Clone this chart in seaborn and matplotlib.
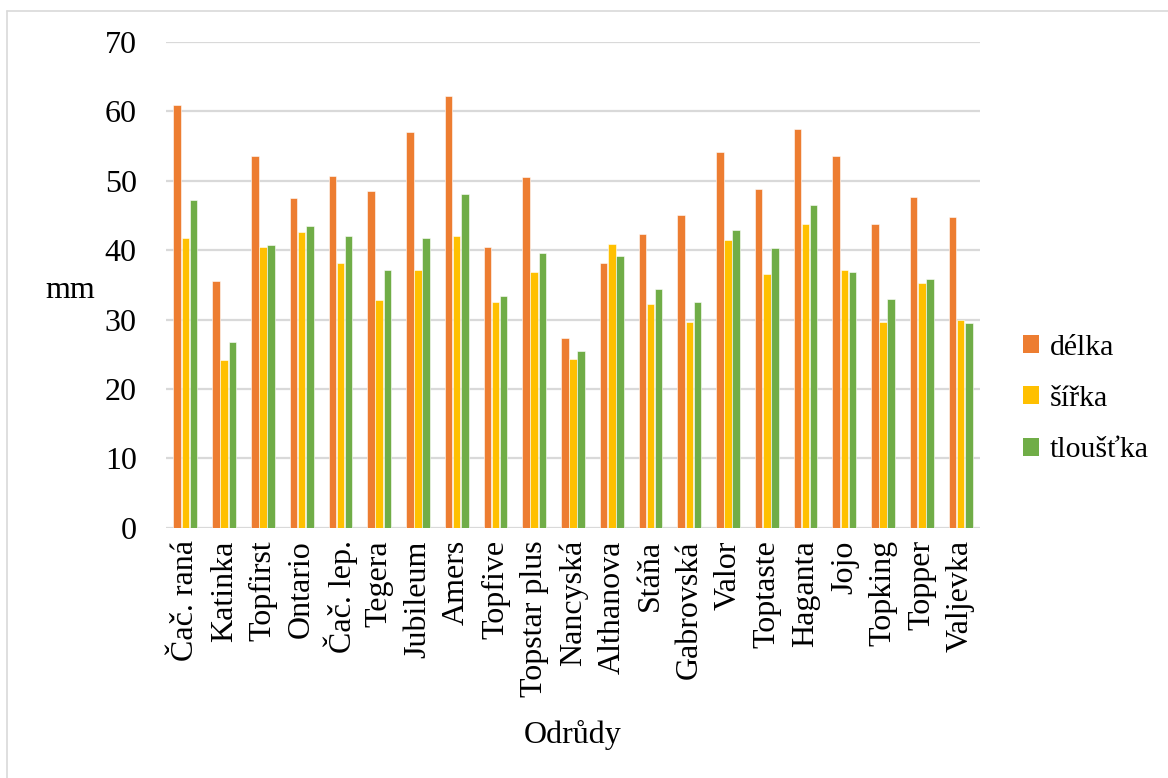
import numpy as np
import pandas as pd
import seaborn as sns
import matplotlib.pyplot as plt
from matplotlib.lines import Line2D

# Varieties and measured dimensions (mm)
odrudy = ["Čač. raná", "Katinka", "Topfirst", "Ontario", "Čač. lep.", "Tegera",
          "Jubileum", "Amers", "Topfive", "Topstar plus", "Nancyská", "Althanova",
          "Stáňa", "Gabrovská", "Valor", "Toptaste", "Haganta", "Jojo", "Topking",
          "Topper", "Valjevka"]
delka = [60.9, 35.5, 53.5, 47.5, 50.7, 48.5, 57.0, 62.2, 40.5, 50.6, 27.3, 38.1,
         42.4, 45.0, 54.2, 48.8, 57.5, 53.5, 43.7, 47.7, 44.8]
sirka = [41.8, 24.1, 40.5, 42.6, 38.1, 32.8, 37.2, 42.1, 32.5, 36.9, 24.3, 40.9,
         32.2, 29.6, 41.4, 36.6, 43.8, 37.2, 29.6, 35.3, 30.0]
tloustka = [47.3, 26.7, 40.8, 43.5, 42.0, 37.2, 41.7, 48.1, 33.4, 39.6, 25.4, 39.1,
            34.4, 32.5, 42.9, 40.3, 46.5, 36.8, 32.9, 35.8, 29.5]
serie = ["délka", "šířka", "tloušťka"]
barvy = ["#ED7D31", "#FFC000", "#70AD47"]

df = pd.DataFrame({"odruda": odrudy, "délka": delka, "šířka": sirka, "tloušťka": tloustka})
long = df.melt(id_vars="odruda", var_name="rozměr", value_name="mm")

sns.set_theme(style="white")
plt.rcParams["font.family"] = ["Liberation Serif", "DejaVu Serif"]

W, H = 1168, 778
fig = plt.figure(figsize=(W / 100, H / 100), dpi=100)
ax = fig.add_axes([166 / W, 1 - 527.7 / H, (980 - 166) / W, (527.7 - 42) / H])

sns.barplot(data=long, x="odruda", y="mm", hue="rozměr", hue_order=serie,
            palette=barvy, saturation=1, width=0.63, gap=0.08, edgecolor="white",
            linewidth=0.4, errorbar=None, ax=ax, zorder=3)

ax.set_ylim(0, 70)
ax.set_xlim(-0.5, len(odrudy) - 0.5)
ax.set_yticks(np.arange(0, 71, 10))
ax.yaxis.grid(True, color="#D9D9D9", linewidth=1.6, zorder=0)
ax.xaxis.grid(False)
for s in ax.spines.values():
    s.set_visible(False)
ax.tick_params(axis="y", length=0, pad=21, labelsize=23, labelcolor="black")
ax.tick_params(axis="x", length=0, pad=9, labelsize=23, labelrotation=90, labelcolor="black")
ax.set_xlabel("")
ax.set_ylabel("")

fig.text(70 / W, 1 - 290 / H, "mm", fontsize=23, ha="center", va="center", color="black")
fig.text(573 / W, 1 - 735 / H, "Odrůdy", fontsize=23, ha="center", va="center", color="black")

ax.get_legend().remove()
handles = [plt.Rectangle((0, 0), 1, 1, facecolor=c, edgecolor="none") for c in barvy]
leg = fig.legend(handles, serie, loc="center left", bbox_to_anchor=(1023 / W, 1 - 399 / H),
                 frameon=False, fontsize=21.5, handlelength=0.55, handleheight=0.55,
                 handletextpad=0.35, labelspacing=0.85, borderaxespad=0, borderpad=0)
for t in leg.get_texts():
    t.set_color("black")

# thin frame around the chart area
fig.add_artist(Line2D([7 / W, 1], [1 - 11 / H, 1 - 11 / H], color="#D9D9D9", linewidth=1.2))
fig.add_artist(Line2D([7 / W, 7 / W], [0, 1 - 11 / H], color="#D9D9D9", linewidth=1.2))

fig.savefig("out.png", dpi=100, facecolor="white")
